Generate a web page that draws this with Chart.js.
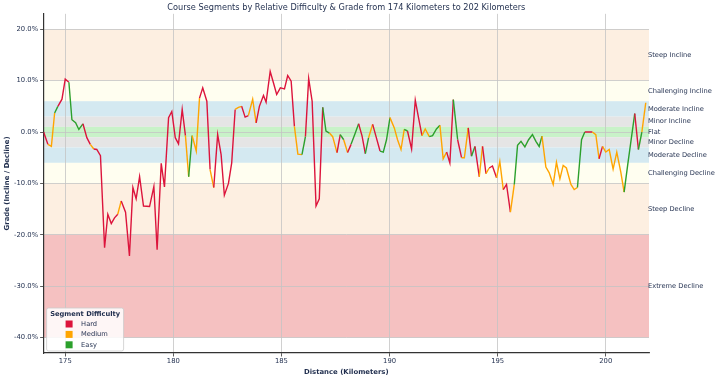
<!DOCTYPE html>
<html>
<head>
<meta charset="utf-8">
<script src="https://cdn.jsdelivr.net/npm/chart.js@4.4.1/dist/chart.umd.min.js"></script>
<style>
  html, body { margin: 0; padding: 0; background: #fff; }
  #wrap { width: 720px; height: 379px; }
</style>
</head>
<body>
<div id="wrap"><canvas id="chart"></canvas></div>
<script>
// distance along the course (km) at each vertex of the grade line
const distanceKm = [
  174.00, 174.20, 174.36, 174.51, 174.66, 174.85, 175.00, 175.17, 175.31, 175.48,
  175.63, 175.82, 176.00, 176.16, 176.32, 176.46, 176.63, 176.82, 176.97, 177.13,
  177.28, 177.43, 177.59, 177.79, 177.97, 178.13, 178.28, 178.44, 178.62, 178.90,
  179.10, 179.25, 179.44, 179.59, 179.78, 179.93, 180.09, 180.24, 180.41, 180.56,
  180.71, 180.87, 181.06, 181.21, 181.36, 181.55, 181.70, 181.87, 182.05, 182.21,
  182.36, 182.55, 182.70, 182.86, 183.01, 183.16, 183.32, 183.47, 183.67, 183.83,
  183.98, 184.17, 184.29, 184.48, 184.63, 184.78, 184.95, 185.14, 185.29, 185.45,
  185.60, 185.76, 185.95, 186.11, 186.26, 186.42, 186.60, 186.75, 186.91, 187.06,
  187.22, 187.37, 187.57, 187.72, 187.88, 188.06, 188.22, 188.39, 188.57, 188.73,
  188.88, 189.03, 189.22, 189.37, 189.56, 189.71, 189.86, 190.02, 190.22, 190.37,
  190.53, 190.68, 190.83, 191.02, 191.19, 191.34, 191.50, 191.65, 191.84, 191.99,
  192.17, 192.33, 192.48, 192.64, 192.79, 192.95, 193.15, 193.33, 193.46, 193.64,
  193.79, 193.95, 194.15, 194.30, 194.46, 194.61, 194.76, 194.95, 195.10, 195.26,
  195.41, 195.59, 195.77, 195.92, 196.08, 196.26, 196.43, 196.61, 196.77, 196.92,
  197.05, 197.23, 197.38, 197.57, 197.72, 197.88, 198.03, 198.18, 198.39, 198.54,
  198.69, 198.88, 199.03, 199.23, 199.38, 199.54, 199.69, 199.85, 200.00, 200.16,
  200.34, 200.51, 200.70, 200.85, 201.03, 201.34, 201.51, 201.67, 201.85
];

// grade (%) at each vertex
const gradePct = [
   0.0,  -2.4,  -2.8,   3.7,   5.0,   6.4,  10.3,   9.7,   2.4,   1.8,
   0.5,   1.6,  -1.1,  -2.4,  -3.3,  -3.4,  -4.6, -22.5, -16.0, -17.8,
 -16.7, -16.0, -13.4, -15.6, -24.1, -10.8, -13.0,  -8.7, -14.4, -14.5,
 -10.6, -22.9,  -6.1, -10.7,   2.8,   4.0,  -1.1,  -2.3,   4.4,  -0.7,
  -8.7,  -0.7,  -3.7,   6.6,   8.6,   6.0,  -7.3, -10.8,  -0.5,  -4.4,
 -12.3, -10.0,  -6.0,   4.4,   4.8,   5.0,   2.9,   3.2,   6.4,   1.8,
   5.0,   7.1,   5.8,  11.8,   9.6,   7.3,   8.6,   8.4,  11.0,   9.9,
   1.1,  -4.3,  -4.4,  -0.9,  10.4,   6.0, -14.4, -13.0,   4.8,   0.2,
  -0.2,  -0.9,  -4.0,  -0.5,  -1.5,  -4.0,  -2.4,  -0.5,   1.6,  -0.8,
  -4.2,  -1.1,   1.5,  -0.8,  -3.7,  -3.9,  -1.5,   2.8,   0.8,  -1.5,
  -3.4,   0.5,   0.2,  -3.3,   6.2,   2.8,  -0.7,   0.6,  -0.9,  -0.7,
   0.6,   1.3,  -5.2,  -3.9,  -6.0,   6.3,  -1.5,  -5.0,  -5.0,   0.8,
  -4.7,  -2.8,  -8.7,  -2.8,  -8.1,  -7.0,  -6.6,  -8.9,  -5.7, -11.2,
 -10.2, -15.6, -10.2,  -2.6,  -1.8,  -2.9,  -1.5,  -0.5,  -1.8,  -2.8,
  -0.8,  -6.8,  -7.9, -10.2,  -5.9,  -9.1,  -6.5,  -7.0, -10.2, -11.2,
 -10.8,  -1.5,   0.0,   0.0,   0.0,  -0.5,  -5.2,  -2.8,  -3.9,  -3.4,
  -7.2,  -3.9,  -7.9, -11.7,  -5.9,   3.6,  -3.4,   0.0,   5.7
];

// difficulty of the segment that starts at each vertex (H/M/E)
const difficulty = [
  'H','M','M','E','H','H','H','E','E','E',
  'E','H','H','M','H','H','H','H','H','H',
  'H','M','H','H','H','H','H','H','H','H',
  'H','H','H','H','H','H','H','H','H','M',
  'E','M','M','H','H','H','M','H','H','H',
  'H','H','H','M','M','H','H','M','M','H',
  'H','H','H','H','H','H','H','H','H','H',
  'M','M','E','H','H','H','H','H','E','E',
  'M','M','H','E','M','H','E','E','H','H',
  'E','M','H','H','E','E','E','M','M','M',
  'M','E','H','H','H','H','M','M','E','E',
  'E','M','M','H','H','E','H','M','M','H',
  'E','H','M','H','M','H','H','M','M','H',
  'H','M','E','E','E','E','E','E','E','E',
  'M','M','M','M','M','M','M','M','M','M',
  'E','E','H','H','M','M','H','M','M','M',
  'M','M','M','E','E','H','E','M'
];

const legendNames = ['Hard', 'Medium', 'Easy'];
const legendCodes = ['H', 'M', 'E'];

const xTicks = [175, 180, 185, 190, 195, 200];
const yTicks = [-40, -30, -20, -10, 0, 10, 20];

// grade bands (%)
const bandNames = ['Steep Incline', 'Challenging Incline', 'Moderate Incline', 'Minor Incline', 'Flat',
                   'Minor Decline', 'Moderate Decline', 'Challenging Decline', 'Steep Decline', 'Extreme Decline'];
const bandHigh = [20, 10, 6, 3, 1, -1, -3, -6, -10, -20];
const bandLow  = [10, 6, 3, 1, -1, -3, -6, -10, -20, -40];

// styles
const diffColors = {H: '#dc143c', M: '#ffa500', E: '#2ca02c'};
const bandColors = ['#fdefe1', '#fffef0', '#d4e9f1', '#e5e5e5', '#c8f2c8',
                    '#e5e5e5', '#d4e9f1', '#fffef0', '#fdefe1', '#f5c1c1'];
const textColor = '#1f2d4d';
const FONT = "'DejaVu Sans', sans-serif";

const bandsPlugin = {
  id: 'bands',
  beforeDraw(chart) {
    const {ctx, chartArea, scales: {y}} = chart;
    ctx.save();
    bandNames.forEach((name, i) => {
      const top = y.getPixelForValue(bandHigh[i]);
      const bottom = y.getPixelForValue(bandLow[i]);
      ctx.fillStyle = bandColors[i];
      ctx.fillRect(chartArea.left, top, chartArea.right - chartArea.left, bottom - top);
    });
    ctx.restore();
  },
  afterDraw(chart) {
    const {ctx, chartArea, scales: {y}} = chart;
    ctx.save();
    // band names on the right
    ctx.font = "6.7px " + FONT;
    ctx.fillStyle = textColor;
    ctx.textAlign = 'left';
    ctx.textBaseline = 'middle';
    bandNames.forEach((name, i) => {
      const mid = (bandHigh[i] + bandLow[i]) / 2;
      ctx.fillText(name, chartArea.right - 1, y.getPixelForValue(mid));
    });

    // legend box, lower left inside the plot
    const bx = chartArea.left + 3, bw = 77, bh = 43;
    const by = chartArea.bottom - 2 - bh;
    ctx.fillStyle = 'rgba(255,255,255,0.85)';
    ctx.strokeStyle = '#cccccc';
    ctx.lineWidth = 0.8;
    ctx.beginPath();
    ctx.roundRect(bx, by, bw, bh, 2);
    ctx.fill();
    ctx.stroke();

    ctx.fillStyle = textColor;
    ctx.font = "bold 6.7px " + FONT;
    ctx.textAlign = 'center';
    ctx.fillText('Segment Difficulty', bx + bw / 2, by + 6);
    ctx.textAlign = 'left';
    ctx.font = "6.7px " + FONT;
    legendNames.forEach((name, i) => {
      const cy = by + 16 + i * 10.4;
      ctx.fillStyle = diffColors[legendCodes[i]];
      ctx.fillRect(bx + 19, cy - 3.5, 7, 7);
      ctx.fillStyle = textColor;
      ctx.fillText(name, bx + 34.5, cy);
    });
    ctx.restore();
  }
};

const points = distanceKm.map((d, i) => ({x: d, y: gradePct[i]}));

new Chart(document.getElementById('chart'), {
  type: 'line',
  data: {
    datasets: [{
      label: 'Grade',
      data: points,
      borderWidth: 1.4,
      pointRadius: 0,
      tension: 0,
      segment: {
        borderColor: c => diffColors[difficulty[c.p0DataIndex]]
      }
    }]
  },
  options: {
    responsive: true,
    maintainAspectRatio: false,
    animation: false,
    layout: {padding: {left: 0, right: 71, top: 0, bottom: 0}},
    plugins: {
      legend: {display: false},
      tooltip: {enabled: false},
      title: {
        display: true,
        fullSize: false,
        text: 'Course Segments by Relative Difficulty & Grade from 174 Kilometers to 202 Kilometers',
        color: textColor,
        font: {family: FONT, size: 8.2, weight: 'normal'},
        padding: {top: 2.5, bottom: 1.5}
      }
    },
    scales: {
      x: {
        type: 'linear',
        min: 174,
        max: 202,
        afterBuildTicks: s => { s.ticks = xTicks.map(v => ({value: v})); },
        afterFit: s => { s.height = 26; },
        ticks: {color: textColor, font: {family: FONT, size: 6.8}, padding: 1, maxRotation: 0, autoSkip: false},
        grid: {color: '#c4c4c4', lineWidth: 0.8, tickLength: 3.5, tickColor: '#333', tickWidth: 0.8},
        border: {color: '#333', width: 1.2},
        title: {display: true, text: 'Distance (Kilometers)', color: textColor,
                font: {family: FONT, size: 6.9, weight: 'bold'}, padding: {top: 1, bottom: 3}}
      },
      y: {
        min: -43,
        max: 23,
        afterBuildTicks: s => { s.ticks = yTicks.map(v => ({value: v})); },
        afterFit: s => { s.width = 43.6; },
        ticks: {color: textColor, font: {family: FONT, size: 6.8}, padding: 2,
                callback: v => v.toFixed(1) + '%'},
        grid: {color: '#c4c4c4', lineWidth: 0.8, tickLength: 3.5, tickColor: '#333', tickWidth: 0.8},
        border: {color: '#333', width: 1.2},
        title: {display: true, text: 'Grade (Incline / Decline)', color: textColor,
                font: {family: FONT, size: 6.9, weight: 'bold'}, padding: {top: 3, bottom: 0}}
      }
    }
  },
  plugins: [bandsPlugin]
});
</script>
</body>
</html>
